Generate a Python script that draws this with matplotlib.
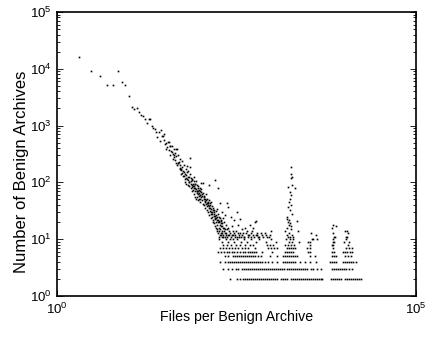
import matplotlib
matplotlib.use("Agg")
import matplotlib.pyplot as plt
from matplotlib.ticker import LogLocator, NullFormatter, NullLocator

plt.rcParams["font.family"] = ["Liberation Sans", "DejaVu Sans"]

# head of the distribution: files per archive -> number of archives
head_x = [2, 3, 4, 5, 6, 7, 8, 9, 10, 11, 12, 13, 14, 15, 16, 17, 18, 19, 20,
          21, 22, 23, 24, 25, 26, 27, 28, 29, 30, 31, 32, 33, 34, 35, 36, 37,
          38, 39, 40, 41, 42, 43, 44, 45, 46, 47, 48, 49, 50, 51, 52, 53, 54,
          55, 56, 57, 58, 59, 60, 61, 62, 63, 64, 65, 66, 67, 68, 69, 70, 71,
          72, 73, 74, 75, 76, 77, 78, 79, 80, 81, 82, 83, 84, 85, 86, 87, 88,
          89, 90, 91, 92, 93, 94, 95, 96, 97, 98, 99, 100, 102, 103, 105, 107,
          108, 110, 112, 115, 117, 119, 121, 124, 126, 128, 131, 133, 135, 137,
          140, 143, 146, 150, 153, 156, 159, 160, 163, 166, 168, 170, 173, 177,
          178, 180, 182, 186, 190, 193, 196, 199, 203, 206, 210, 214, 218, 222,
          226, 230, 235, 242, 246, 250, 257, 262, 270, 276, 283, 290, 300, 313,
          323, 333, 341, 350, 362, 375, 390, 405, 421, 440, 458, 475, 488, 503,
          520, 530, 545, 572, 591, 600, 610, 640, 690, 750, 820, 900, 960]
head_y = [16100, 9150, 7550, 5190, 5200, 9150, 5860, 5200, 3320, 2150, 1940,
          2050, 1715, 1540, 1476, 1290, 1100, 1320, 1325, 984, 896, 870, 785,
          638, 782, 542, 830, 656, 656, 560, 474, 500, 415, 514, 372, 443, 443,
          363, 347, 320, 277, 300, 325, 222, 383, 383, 216, 223, 231, 200, 177,
          170, 165, 190, 145, 160, 150, 130, 140, 103, 135, 120, 197, 113, 110,
          125, 100, 103, 126, 266, 184, 105, 95, 82, 110, 90, 88, 73, 85, 126,
          78, 95, 70, 80, 107, 75, 71, 65, 56, 80, 62, 70, 58, 72, 66, 60, 60,
          52, 68, 55, 96, 62, 42, 98, 50, 58, 52, 45, 48, 44, 38, 46, 40, 90,
          36, 43, 35, 30, 38, 28, 32, 26, 30, 110, 23, 24, 27, 14, 34, 22, 79,
          20, 25, 11, 43, 19, 21, 30, 17, 24, 11, 16, 20, 27, 13, 18, 44, 15,
          37, 12, 14, 10, 25, 17, 12, 14, 22, 11, 14, 30, 18, 12, 23, 11, 15,
          13, 11, 16, 14, 11, 12, 18, 11, 14, 16, 12, 20, 12, 21, 13, 11, 13,
          11, 12, 11, 14]

# second pass over the same band (archives that share a file count bucket)
band_x = [31, 33, 36, 38, 40, 41, 43, 44, 46, 47, 49, 51, 52, 54, 55, 57, 58,
          60, 62, 63, 64, 66, 67, 69, 71, 73, 74, 76, 77, 79, 80, 82, 84, 85,
          87, 88, 90, 92, 93, 95, 97, 98, 99, 101, 104, 106, 109, 111, 113, 114,
          116, 118, 120, 122, 123, 125, 127, 129, 130, 132, 134, 136, 138, 139,
          141, 142, 144, 145, 147, 148, 149, 152, 154, 155, 157, 158, 161, 162,
          164, 165, 167, 169, 171, 172, 174, 175, 176, 179, 181, 183, 185, 187,
          188, 189, 191, 192, 194, 195, 197, 198, 200, 202, 205, 208, 212, 216,
          220, 224, 228, 233, 238, 240, 253, 265, 280, 295, 305, 318, 328, 345,
          356, 380, 398, 430, 465, 510, 560, 620, 660, 720, 780, 850, 930]
band_y = [700, 390, 520, 300, 430, 260, 380, 250, 290, 200, 300, 170, 260, 140,
          240, 130, 200, 115, 170, 95, 150, 90, 160, 85, 140, 78, 120, 70, 115,
          95, 62, 105, 55, 95, 52, 90, 70, 48, 85, 50, 78, 45, 70, 75, 58, 48,
          64, 40, 55, 47, 36, 62, 41, 52, 33, 44, 30, 38, 27, 48, 31, 40, 28,
          24, 34, 45, 25, 30, 22, 36, 20, 28, 19, 33, 24, 17, 26, 20, 31, 16,
          22, 18, 25, 15, 20, 13, 28, 16, 21, 14, 18, 12, 24, 15, 13, 17, 12,
          22, 14, 11, 19, 13, 16, 12, 14, 11, 15, 12, 13, 11, 16, 12, 13, 11,
          12, 13, 12, 11, 13, 11, 13, 12, 11, 13, 12, 13, 11, 12, 11, 12, 13,
          11, 12]

# secondary peak near 1,800 files per archive
peak_x = [1800, 1805, 1860, 1830, 1850, 1667, 2065, 1780, 1790, 1770, 1720,
          1810, 1670, 1740, 1900, 1580, 1700, 2170, 1760, 1620, 1840, 2300,
          1500, 1690, 1775, 1950, 1660, 1600, 1650, 1730, 1795, 1610, 1880]
peak_y = [184, 141, 126, 118, 90, 82, 79, 69, 60, 52, 46, 40, 37, 33, 28, 23,
          22, 21, 19, 16, 17, 14, 14, 13, 11, 11, 11, 25, 20, 18, 15, 12, 12]

# sparse points in the long tail
tail_x = [3410, 4170, 3340, 6800, 7600, 7000, 7211, 6950, 10840, 11300, 10600,
          6900, 7450, 7200, 10260, 11000, 11700, 3130, 3560, 4050]
tail_y = [13, 10, 9, 16, 17, 13, 11, 8, 14, 13, 11, 18, 11, 9, 14, 11, 9, 9,
          10, 12]

# low-count rows: archives counted 2..10 times
row2_x = [256, 321, 353, 390, 415, 443, 472, 503, 537, 572, 610, 650, 694,
          740, 789, 841, 897, 956, 1019, 1087, 1159, 1318, 1405, 1498, 1597,
          1816, 1936, 2065, 2202, 2347, 2503, 2669, 2845, 3034, 3235, 3449,
          3677, 3921, 4180, 4457, 4753, 4908, 6550, 6984, 7446, 7940, 8466,
          9026, 10262, 10942, 11667, 12440, 13264, 14143, 15080, 16079, 17144]
row3_x = [203, 240, 273, 311, 336, 377, 402, 429, 457, 488, 520, 554, 591, 630,
          672, 716, 764, 814, 868, 926, 987, 1053, 1122, 1197, 1276, 1361,
          1451, 1597, 1703, 1816, 1936, 2065, 2202, 2347, 2503, 2669, 2845,
          3034, 3449, 3677, 4180, 4753, 6763, 7211, 7689, 8198, 8741, 9320,
          9938, 10596, 11667, 12845]
row4_x = [186, 218, 240, 256, 273, 291, 311, 331, 353, 377, 402, 429, 457, 488,
          520, 554, 591, 630, 672, 716, 789, 868, 987, 1159, 1405, 1498, 1597,
          1703, 1816, 1936, 2065, 2424, 2845, 3340, 4049, 6343, 6763, 7211,
          7689, 9624, 10262, 10942, 11667, 12440, 13264, 14604]
row5_x = [218, 240, 282, 301, 321, 342, 365, 390, 415, 443, 472, 503, 537, 572,
          630, 694, 926, 1159, 1405, 1498, 1597, 1703, 1816, 1936, 2065, 2202,
          3340, 3921, 6763, 7211, 7689, 10262, 11298, 12440]
row6_x = [175, 192, 211, 233, 248, 273, 291, 321, 353, 390, 415, 457, 488, 520,
          554, 591, 716, 987, 1498, 1597, 1703, 1816, 1936, 3133, 3340, 6763,
          7211, 9624, 10262, 10942, 12047, 12845]
row7_x = [186, 205, 225, 248, 273, 301, 331, 377, 415, 457, 572, 868, 956,
          1053, 1159, 1597, 1703, 1816, 1936, 2065, 3034, 3340, 6984, 10596,
          11667, 12845]
row8_x = [205, 233, 265, 311, 353, 415, 488, 537, 841, 926, 1019, 1498, 1649,
          1816, 2000, 3340, 6763, 11298]
row9_x = [198, 240, 291, 365, 443, 591, 814, 1122, 1703, 1875, 2347, 6984,
          9938]
row10_x = [180, 225, 282, 321, 402, 503, 650, 956, 1547, 1759, 1936, 3677,
           6984, 10596]

rows = {2: row2_x, 3: row3_x, 4: row4_x, 5: row5_x, 6: row6_x,
        7: row7_x, 8: row8_x, 9: row9_x, 10: row10_x}

fig = plt.figure(figsize=(4.28, 3.41), dpi=100)
ax = fig.add_axes([0.133, 0.132, 0.839, 0.833])

dot = dict(marker="s", ms=1.2, mew=0, color="black", linestyle="none")

ax.plot(head_x, head_y, **dot)
ax.plot(band_x, band_y, **dot)
ax.plot(peak_x, peak_y, **dot)
ax.plot(tail_x, tail_y, **dot)
for count, xs in rows.items():
    ax.plot(xs, [count] * len(xs), **dot)

ax.set_xscale("log")
ax.set_yscale("log")
ax.set_xlim(1, 1e5)
ax.set_ylim(1, 1e5)

ax.set_xticks([1, 1e5])
ax.xaxis.set_minor_locator(NullLocator())
ax.yaxis.set_major_locator(LogLocator(base=10, numticks=10))
ax.yaxis.set_minor_locator(LogLocator(base=10, subs=range(2, 10), numticks=20))
ax.yaxis.set_minor_formatter(NullFormatter())

ax.tick_params(which="both", direction="in", top=True, right=True,
               labelsize=9.5, width=0.6)
ax.tick_params(which="major", length=4)
ax.tick_params(which="minor", length=2)
ax.tick_params(axis="x", pad=4)
for side in ax.spines.values():
    side.set_linewidth(1.2)

ax.set_xlabel("Files per Benign Archive", fontsize=10.2, labelpad=-5)
ax.set_ylabel("Number of Benign Archives", fontsize=12)
ax.yaxis.set_label_coords(-0.078, 0.437)

fig.savefig("out.png", dpi=100)
